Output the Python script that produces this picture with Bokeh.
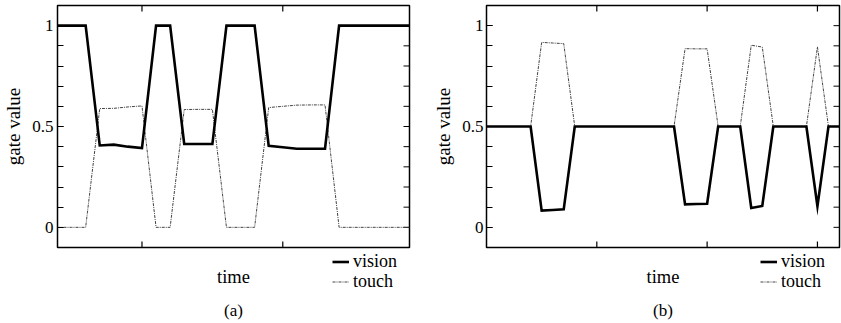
from bokeh.plotting import figure
from bokeh.layouts import row, column
from bokeh.models import (Range1d, FixedTicker, LinearAxis, Label, Legend, LegendItem)
from bokeh.embed import file_html
from bokeh.resources import INLINE
import math

# ---------------- data ----------------
# panel (a)
time_a = list(range(4, 30))
vision_a = [1, 1, 1, 0.406, 0.41, 0.40, 0.393, 1, 1, 0.414, 0.413, 0.413, 1, 1, 1,
            0.404, 0.397, 0.39, 0.39, 0.39, 1, 1, 1, 1, 1, 1]
touch_a = [0, 0, 0, 0.589, 0.59, 0.597, 0.602, 0, 0, 0.584, 0.585, 0.585, 0, 0, 0,
           0.594, 0.600, 0.606, 0.607, 0.607, 0, 0, 0, 0, 0, 0]
# panel (b)
time_b = list(range(0, 33))
vision_b = [0.5, 0.5, 0.5, 0.5, 0.5, 0.083, 0.086, 0.089, 0.5, 0.5, 0.5, 0.5, 0.5, 0.5,
            0.5, 0.5, 0.5, 0.5, 0.114, 0.116, 0.117, 0.5, 0.5, 0.5, 0.096, 0.106, 0.5,
            0.5, 0.5, 0.5, 0.105, 0.5, 0.5]
touch_b = [0.5, 0.5, 0.5, 0.5, 0.5, 0.917, 0.914, 0.911, 0.5, 0.5, 0.5, 0.5, 0.5, 0.5,
           0.5, 0.5, 0.5, 0.5, 0.886, 0.885, 0.885, 0.5, 0.5, 0.5, 0.903, 0.894, 0.5,
           0.5, 0.5, 0.5, 0.895, 0.5, 0.5]

y_ticks = [0, 0.5, 1]
y_tick_labels = {0: "0", 0.5: "0.5", 1: "1"}
y_minor = [round(i * 0.1, 1) for i in range(0, 11)]
x_ticks_a = [10, 20]
x_ticks_b = [10, 20, 30]
series_names = ["vision", "touch"]

FONT = "Liberation Serif"
MAIN_H = 250
CAP_H = 72
NAN = float("nan")
VIS_STYLE = dict(line_color="black", line_width=2.6)
TOU_STYLE = dict(line_color="#444444", line_width=1, line_dash="3 1 1 1")


def make_legend(renderer, label, x, y):
    leg = Legend(items=[LegendItem(label=label, renderers=[renderer])], location=(x, y))
    leg.glyph_width = 17
    leg.glyph_height = 15
    leg.label_height = 15
    leg.label_standoff = 4
    leg.spacing = 0
    leg.padding = 0
    leg.margin = 0
    leg.border_line_color = None
    leg.background_fill_alpha = 0
    leg.label_text_font = FONT
    leg.label_text_font_size = "18px"
    leg.label_text_color = "black"
    leg.label_text_baseline = "middle"
    return leg


def make_panel(t, vis, tou, xr, xticks, letter, width, bl, br, std):
    p = figure(width=width, height=MAIN_H, output_backend="svg", toolbar_location=None,
               x_range=Range1d(*xr), y_range=Range1d(-0.1, 1.1),
               x_axis_location=None, y_axis_location=None,
               min_border_left=bl, min_border_right=br, min_border_top=5,
               min_border_bottom=3)
    p.grid.visible = False
    p.outline_line_color = "black"
    p.outline_line_width = 1.5
    p.background_fill_color = None
    p.border_fill_color = None

    yt = FixedTicker(ticks=y_ticks, minor_ticks=y_minor)
    ax = LinearAxis(ticker=yt)
    ax.axis_line_color = None
    ax.major_tick_in = 6
    ax.major_tick_out = 0
    ax.minor_tick_in = 6
    ax.minor_tick_out = 0
    ax.major_tick_line_color = "black"
    ax.minor_tick_line_color = "black"
    ax.major_label_overrides = y_tick_labels
    ax.major_label_text_font = FONT
    ax.major_label_text_font_size = "17px"
    ax.major_label_text_color = "black"
    ax.major_label_standoff = std
    ax.axis_label = "gate value"
    ax.axis_label_text_font = FONT
    ax.axis_label_text_font_size = "19px"
    ax.axis_label_text_font_style = "normal"
    ax.axis_label_text_color = "black"
    ax.axis_label_standoff = 5
    p.add_layout(ax, "left")

    # inward ticks on the right / top / bottom edges (dash markers clipped by the frame)
    p.scatter([xr[1]] * len(y_minor), y_minor, marker="dash", size=12,
              line_color="black", line_width=1)
    p.scatter(xticks, [1.1] * len(xticks), marker="dash", size=12, angle=math.pi / 2,
              line_color="black", line_width=1.2)
    p.scatter(xticks, [-0.1] * len(xticks), marker="dash", size=12, angle=math.pi / 2,
              line_color="black", line_width=1.2)

    p.line(t, tou, **TOU_STYLE)
    p.line(t, vis, line_join="miter", **VIS_STYLE)

    # caption strip: x label, legend, panel letter
    c = figure(width=width, height=CAP_H, output_backend="svg", toolbar_location=None,
               x_range=p.x_range, y_range=Range1d(MAIN_H + CAP_H, MAIN_H),
               x_axis_location=None, y_axis_location=None,
               min_border_left=bl, min_border_right=br, min_border_top=0,
               min_border_bottom=0)
    c.grid.visible = False
    c.outline_line_color = None
    c.background_fill_color = None
    c.border_fill_color = None
    xmid = (xr[0] + xr[1]) / 2
    c.add_layout(Label(x=xmid, y=276.5, text="time", text_align="center",
                       text_baseline="middle", text_font=FONT, text_font_size="18.5px",
                       text_color="black"))
    c.add_layout(Label(x=xmid, y=310, text="(" + letter + ")", text_align="center",
                       text_baseline="middle", text_font=FONT, text_font_size="17px",
                       text_color="black"))
    # legend proxies (no visible data points)
    lv = c.line([NAN, NAN], [NAN, NAN], **VIS_STYLE)
    lt = c.line([NAN, NAN], [NAN, NAN], **TOU_STYLE)
    frame_w = width - bl - br
    c.add_layout(make_legend(lv, series_names[0], frame_w - 79, 50))
    c.add_layout(make_legend(lt, series_names[1], frame_w - 79, 30))
    return column(p, c, spacing=0)


pa = make_panel(time_a, vision_a, touch_a, (4, 29), x_ticks_a, "a", 428, 55, 19, 4)
pb = make_panel(time_b, vision_b, touch_b, (0, 32), x_ticks_b, "b", 413, 58, 2, 3)

layout = row(pa, pb, spacing=0)
open("out.html", "w").write(file_html(layout, INLINE))
